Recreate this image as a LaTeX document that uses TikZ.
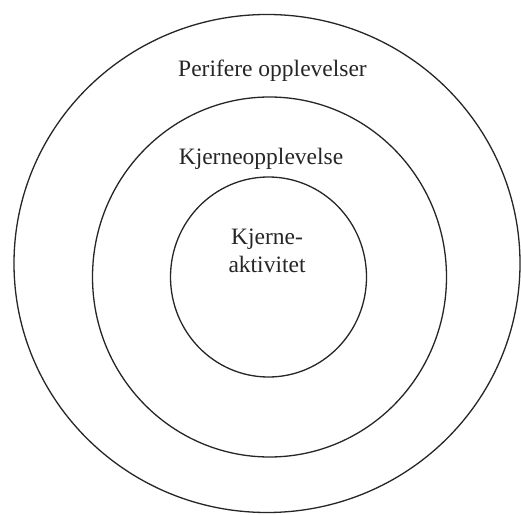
\documentclass[tikz,border=0pt]{standalone}
\usepackage{fontspec}
\setmainfont{Liberation Serif}
\begin{document}
\begin{tikzpicture}[x=1pt,y=1pt,
  ring/.style={draw=black!85,line width=1.3pt},
  lbl/.style={anchor=base,inner sep=0pt,font=\fontsize{23.5}{28}\selectfont,text=black!85}]
\useasboundingbox (0,0) rectangle (521,514);
\fill[white] (0,0) rectangle (521,514);
% image y -> 514 - y
\draw[ring] (267,250.5) ellipse [x radius=253, y radius=249];
\draw[ring] (269.5,237) ellipse [x radius=177, y radius=180];
\draw[ring] (268.5,237) ellipse [x radius=98, y radius=100];
\node[lbl] (peri) at (272.5,437) {Perifere opplevelser};
\node[lbl] (kjo) at (261,349) {Kjerneopplevelse};
\node[lbl] (kj1) at (267,269) {Kjerne-};
\node[lbl] (kj2) at (267,241) {aktivitet};
\end{tikzpicture}
\end{document}
